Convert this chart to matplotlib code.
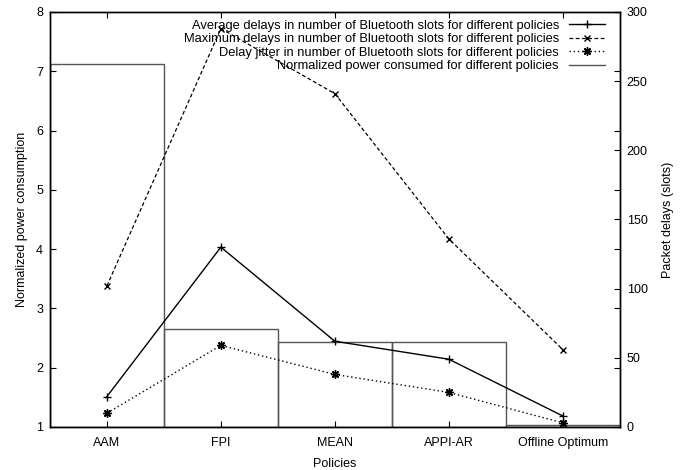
import numpy as np
from matplotlib import pyplot as plt

plt.rcParams['font.family'] = ['Liberation Sans', 'DejaVu Sans']
plt.rcParams['font.size'] = 9

policies = ['AAM', 'FPI', 'MEAN', 'APPI-AR', 'Offline Optimum']
power = [7.13, 2.66, 2.44, 2.44, 1.03]
avg_delay = [22, 130, 62, 49, 8]
max_delay = [102, 288, 241, 136, 56]
jitter = [10, 59, 38, 25, 3]

x = np.arange(len(policies))

fig = plt.figure(figsize=(6.84, 4.70), dpi=100)
ax = fig.add_axes([0.073, 0.0915, 0.833, 0.883])
ax2 = ax.twinx()

####---- bars (power, left axis) ----####
bars = ax.bar(x, np.array(power) - 1, bottom=1, width=1.0, fill=False,
              edgecolor='#555555', linewidth=1.0)
ax.set_xlim(-0.5, 4.5)
ax.set_ylim(1, 8)
ax.set_xticks(x)
ax.set_xticklabels(policies)
ax.set_yticks(range(1, 9))
ax.tick_params(axis='x', direction='in', top=True, length=4, pad=7)
ax.tick_params(axis='y', direction='in', length=4, pad=5, right=True, labelright=False)
ax.set_xlabel('Policies', labelpad=7)
ax.set_ylabel('Normalized power consumption', labelpad=6)

####---- lines (delays, right axis) ----####
l1, = ax2.plot(x, avg_delay, color='black', linewidth=1.0, marker='+',
               markersize=6, markeredgewidth=1.0)
l2, = ax2.plot(x, max_delay, color='black', linewidth=0.9, linestyle=(0, (3, 2)),
               marker='x', markersize=5, markeredgewidth=1.0)
l3, = ax2.plot(x, jitter, color='black', linewidth=1.0, linestyle=(0, (1, 2)),
               marker=(8, 2, 0), markersize=6, markeredgewidth=1.0)
ax2.set_ylim(0, 300)
ax2.set_yticks(range(0, 301, 50))
ax2.tick_params(axis='y', direction='in', length=4, pad=5)
ax2.set_ylabel('Packet delays (slots)', labelpad=10)

for a in (ax, ax2):
    for s in a.spines.values():
        s.set_linewidth(1.0)

handles = [l1, l2, l3, plt.Line2D([], [], color='#555555', linewidth=1.0)]
labels = ['Average delays in number of Bluetooth slots for different policies',
          'Maximum delays in number of Bluetooth slots for different policies',
          'Delay jitter in number of Bluetooth slots for different policies',
          'Normalized power consumed for different policies']
leg = ax2.legend(handles, labels, loc='upper right', bbox_to_anchor=(0.983, 0.994),
                 frameon=False, markerfirst=False,
                 handlelength=2.8, handletextpad=0.75, labelspacing=0.12,
                 borderaxespad=0.0, fontsize=9.3)
for t in leg.get_texts():
    t.set_ha('right')

fig.savefig('out.png', dpi=100)
